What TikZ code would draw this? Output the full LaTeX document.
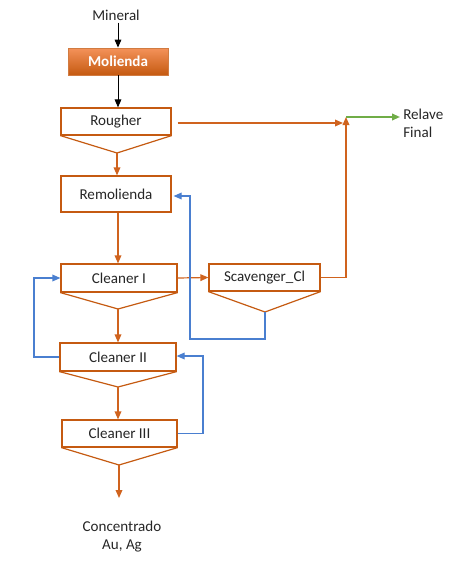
\documentclass[tikz,border=0pt]{standalone}
\usepackage{fontspec}
\setmainfont{Carlito}
\usetikzlibrary{arrows.meta,calc}
\definecolor{boxor}{HTML}{C55A11}
\definecolor{lineor}{HTML}{D0631E}
\definecolor{lineblue}{HTML}{4A7FD0}
\definecolor{linegreen}{HTML}{70AD47}
\definecolor{txt}{HTML}{262626}
\definecolor{moltop}{HTML}{F4925A}
\definecolor{molbot}{HTML}{C55A11}
\begin{document}
\begin{tikzpicture}[x=0.75pt,y=-0.75pt,
  every node/.style={font=\fontsize{11.3}{13.5}\selectfont,text=txt,inner sep=0pt},
  unitbox/.style={draw=boxor,line width=0.9pt,fill=white,rectangle},
  tri/.style={draw=boxor,line width=0.9pt},
  tip/.style={-{Triangle[length=6pt,width=5pt]}},
  orline/.style={draw=lineor,line width=0.9pt,tip},
  blline/.style={draw=lineblue,line width=0.9pt,tip},
  grline/.style={draw=linegreen,line width=1.3pt,tip},
  bkline/.style={draw=black,line width=0.75pt,tip}]
\useasboundingbox (0,0) rectangle (454,564);
% nodes
\node (mineral) at (116,15) {Mineral};
\node[rectangle,top color=moltop,bottom color=molbot,draw=boxor!80,line width=0.6pt,
  minimum width=100*0.75pt,minimum height=27*0.75pt,text=white,font=\fontsize{11.3}{13.5}\selectfont\bfseries]
  (molienda) at (118,61.5) {Molienda};
\node[unitbox,minimum width=110*0.75pt,minimum height=27*0.75pt] (rougher) at (116,121.5) {Rougher};
\node[unitbox,minimum width=110*0.75pt,minimum height=36*0.75pt] (remol) at (116,194) {Remolienda};
\node[unitbox,minimum width=116*0.75pt,minimum height=28*0.75pt] (cl1) at (119,278) {Cleaner I};
\node[unitbox,minimum width=111*0.75pt,minimum height=27*0.75pt] (scav) at (264.5,277.5) {Scavenger\_Cl};
\node[unitbox,minimum width=116*0.75pt,minimum height=28*0.75pt] (cl2) at (118,357) {Cleaner II};
\node[unitbox,minimum width=115*0.75pt,minimum height=27*0.75pt] (cl3) at (119.5,433.5) {Cleaner III};
\node[align=center] (conc) at (122,537) {Concentrado\\Au, Ag};
\node[align=left,anchor=west] (relave) at (403,123.5) {Relave\\Final};
% apexes and junctions
\coordinate (ra) at (117,153);
\coordinate (c1a) at (118,309);
\coordinate (sa) at (265,312);
\coordinate (c2a) at (118,387);
\coordinate (c3a) at (119,465);
\coordinate (j) at (346,117);
\coordinate (concend) at (119,498);
% triangles
\draw[tri] (rougher.south west) -- (ra) -- (rougher.south east);
\draw[tri] (cl1.south west) -- (c1a) -- (cl1.south east);
\draw[tri] (scav.south west) -- (sa) -- (scav.south east);
\draw[tri] (cl2.south west) -- (c2a) -- (cl2.south east);
\draw[tri] (cl3.south west) -- (c3a) -- (cl3.south east);
% black
\draw[bkline] (mineral.south -| molienda.north) ++(0,2) -- (molienda.north);
\draw[bkline] (molienda.south) -- (rougher.north -| molienda.south);
% orange
\draw[orline] (ra) -- (ra |- remol.north);
\draw[orline] (remol.south -| c1a) -- (c1a |- cl1.north);
\draw[orline] (c1a) -- (c1a |- cl2.north);
\draw[orline] (c2a) -- (c2a |- cl3.north);
\draw[orline] (c3a) -- (concend);
\draw[orline] (cl1.east) -- (scav.west);
\draw[orline,shorten <=6*0.75pt,shorten >=3*0.75pt] ([yshift=-1.5*0.75pt]rougher.east) -- ([yshift=-1.5*0.75pt]rougher.east -| j);
\draw[orline] (scav.east) -- (scav.east -| j) -- (j);
% green
\draw[grline] (j) -- (400,117);
% blue
\draw[blline] (sa) -- (265,339) -- (190,339) -- (190,196) -- ([xshift=2*0.75pt]remol.east |- 0,196);
\draw[blline] (cl2.west) -- (34,357) -- (34,278) -- (cl1.west);
\draw[blline] (cl3.east) -- (203,433.5) -- (203,356) -- (cl2.east |- 0,356);
\end{tikzpicture}
\end{document}
